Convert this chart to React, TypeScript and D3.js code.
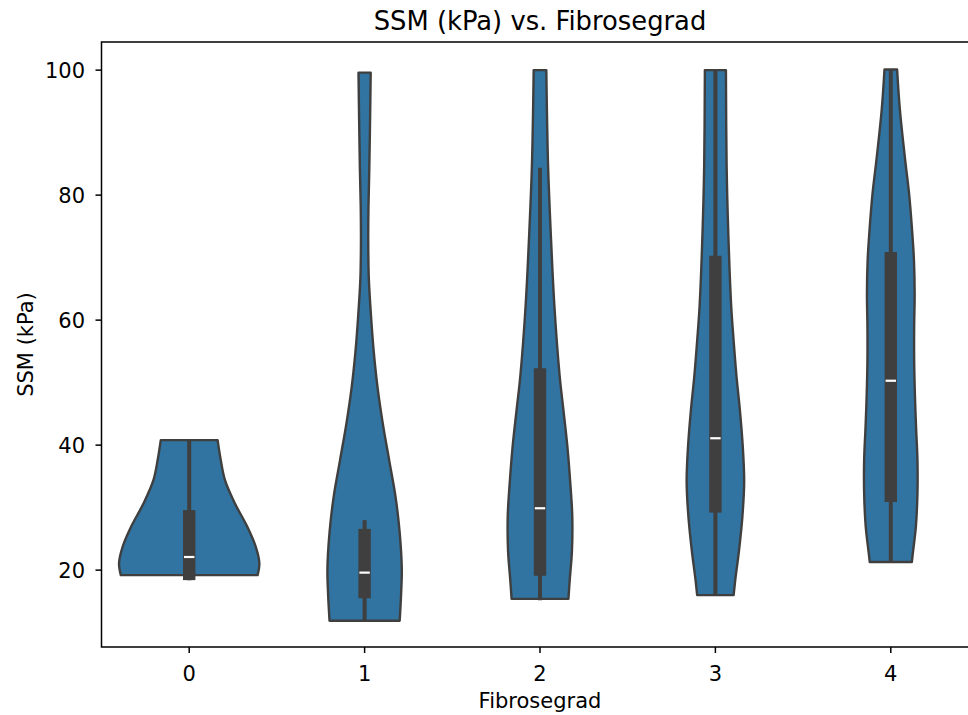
import React from 'react';
import * as d3 from 'd3';

// Fibrosegrad categories
const grades = ['0', '1', '2', '3', '4'];

// violin outlines: [SSM value, relative half width (1 = full 0.4 band)]
const densityG0: [number, number][] = [[19.2, 0.975], [21.1, 1.0], [23.7, 0.95], [26.9, 0.83], [30.7, 0.65], [34.4, 0.51], [37.6, 0.45], [40.8, 0.405]];
const densityG1: [number, number][] = [[11.9, 0.5], [16.1, 0.52], [20.2, 0.53], [26, 0.5], [31.8, 0.44], [37.6, 0.35], [43.4, 0.26], [49.2, 0.185], [55, 0.13], [60.9, 0.09], [66.7, 0.06], [72.5, 0.052], [78, 0.055], [84.2, 0.067], [92, 0.078], [99.6, 0.087]];
const densityG2: [number, number][] = [[15.4, 0.405], [18.6, 0.425], [23, 0.455], [28.6, 0.46], [34.2, 0.43], [39.8, 0.39], [45.5, 0.335], [51.1, 0.28], [62.3, 0.205], [73.5, 0.155], [84.8, 0.115], [100, 0.09]];
const densityG3: [number, number][] = [[16, 0.26], [18.6, 0.285], [23, 0.335], [28.6, 0.385], [34.2, 0.41], [39.8, 0.39], [45.5, 0.35], [51.1, 0.3], [56.7, 0.26], [62.3, 0.225], [73.5, 0.185], [84.7, 0.16], [100, 0.15]];
const densityG4: [number, number][] = [[21.3, 0.3], [22.7, 0.314], [26.9, 0.357], [32.3, 0.38], [37.6, 0.38], [42.9, 0.36], [48.3, 0.343], [53.6, 0.333], [58.9, 0.333], [64.3, 0.34], [69.6, 0.33], [74.9, 0.3], [80.3, 0.26], [85.6, 0.205], [93.6, 0.13], [100.1, 0.09]];
const densities = [densityG0, densityG1, densityG2, densityG3, densityG4];

// inner box stats
const q1s = [18.4, 15.5, 19.1, 29.2, 30.9];
const medians = [22.1, 19.6, 29.9, 41.1, 50.3];
const q3s = [29.6, 26.6, 52.3, 70.3, 70.9];
const whiskerLows = [18.4, 11.9, 15.2, 15.9, 21.3];
const whiskerHighs = [40.8, 28.0, 84.4, 100, 100];

const yTicks = [20, 40, 60, 80, 100];

const W = 968;
const H = 715;
const left = 101.5, right = 978.5, top = 42, bottom = 647;
const font = 'DejaVu Sans, sans-serif';
const dark = '#3f3f3f';
const fs = 21;

export default function App() {
  const x = d3.scaleBand().domain(grades).range([left, right]).padding(0);
  const y = d3.scaleLinear().domain([7.7, 104.5]).range([bottom, top]);
  const half = x.bandwidth() * 0.4;

  return (
    <svg width={W} height={H} style={{ position: 'absolute', left: 0, top: 0 }}>
      <rect x={0} y={0} width={W} height={H} fill="#fff" />
      {grades.map((g, i) => {
        const cx = x(g)! + x.bandwidth() / 2;
        const area = d3.area<[number, number]>()
          .x0(d => cx - d[1] * half)
          .x1(d => cx + d[1] * half)
          .y(d => y(d[0]))
          .curve(d3.curveCatmullRom);
        return (
          <g key={g}>
            <path d={area(densities[i]) || ''} fill="#3274a1" stroke={dark} strokeWidth={2.4} strokeLinejoin="round" />
            <line x1={cx} x2={cx} y1={y(whiskerLows[i])} y2={y(whiskerHighs[i])} stroke={dark} strokeWidth={4} />
            <rect x={cx - 6.2} width={12.4} y={y(q3s[i])} height={y(q1s[i]) - y(q3s[i])} fill={dark} />
            <line x1={cx - 5.2} x2={cx + 5.2} y1={y(medians[i])} y2={y(medians[i])} stroke="#fff" strokeWidth={2.2} />
          </g>
        );
      })}

      {/* frame */}
      <rect x={left} y={top} width={right - left} height={bottom - top} fill="none" stroke="#000" strokeWidth={1.5} />

      {/* y axis */}
      {yTicks.map(t => (
        <g key={t}>
          <line x1={left - 6} x2={left} y1={y(t)} y2={y(t)} stroke="#000" strokeWidth={1.5} />
          <text x={left - 16.5} y={y(t) + 7.8} textAnchor="end" fontFamily={font} fontSize={fs} fill="#000">{t}</text>
        </g>
      ))}

      {/* x axis */}
      {grades.map(g => {
        const cx = x(g)! + x.bandwidth() / 2;
        return (
          <g key={g}>
            <line x1={cx} x2={cx} y1={bottom} y2={bottom + 6} stroke="#000" strokeWidth={1.5} />
            <text x={cx} y={681} textAnchor="middle" fontFamily={font} fontSize={fs} fill="#000">{g}</text>
          </g>
        );
      })}

      <text x={(left + right) / 2} y={708} textAnchor="middle" fontFamily={font} fontSize={fs} fill="#000">Fibrosegrad</text>
      <text transform={`translate(32.5, ${(top + bottom) / 2}) rotate(-90)`} textAnchor="middle" fontFamily={font} fontSize={fs} fill="#000">SSM (kPa)</text>
      <text x={(left + right) / 2} y={29.5} textAnchor="middle" fontFamily={font} fontSize={25.8} fill="#000">SSM (kPa) vs. Fibrosegrad</text>
    </svg>
  );
}
